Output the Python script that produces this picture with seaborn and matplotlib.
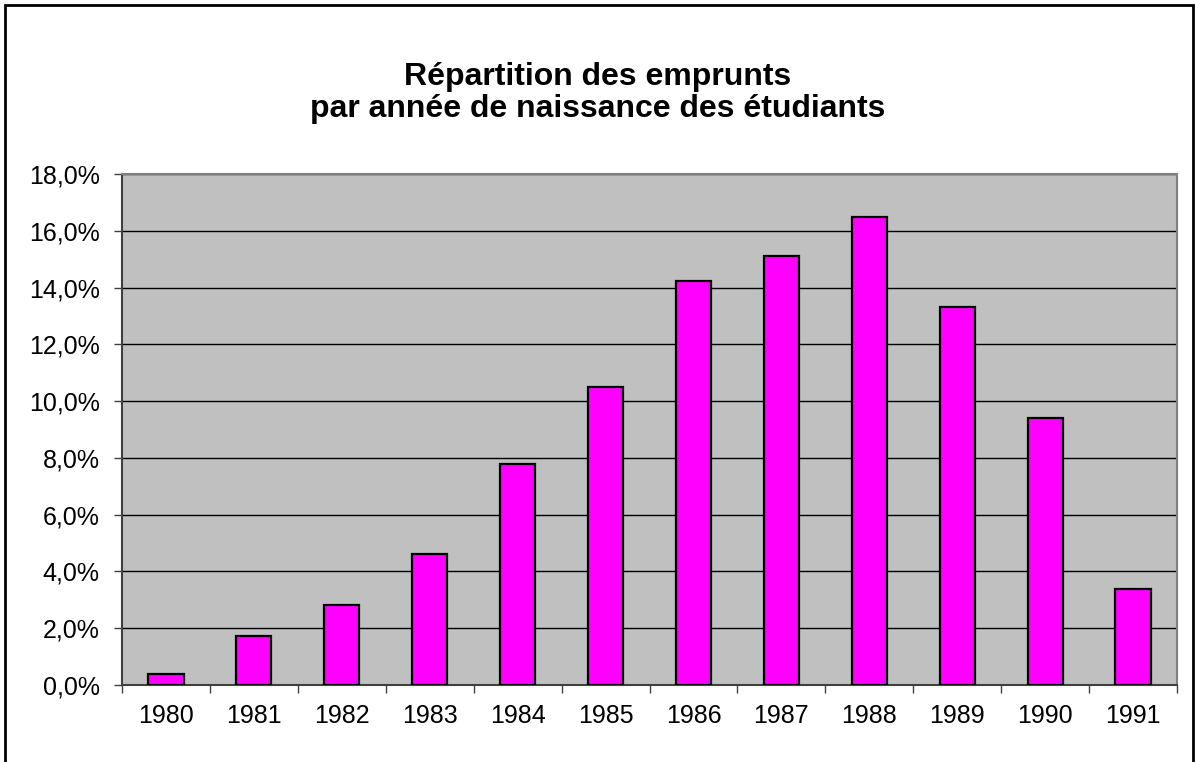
import matplotlib
matplotlib.use("Agg")
import matplotlib.pyplot as plt
import matplotlib.patches as mpatches
from matplotlib.ticker import FuncFormatter, FixedLocator
import seaborn as sns
import pandas as pd

years = ["1980", "1981", "1982", "1983", "1984", "1985",
         "1986", "1987", "1988", "1989", "1990", "1991"]
shares = [0.40, 1.72, 2.82, 4.63, 7.80, 10.50,
          14.23, 15.10, 16.50, 13.31, 9.39, 3.37]
yticks = [0, 2, 4, 6, 8, 10, 12, 14, 16, 18]
title_lines = ["Répartition des emprunts", "par année de naissance des étudiants"]

sns.set_theme(style="white")
plt.rcParams['font.family'] = ['Liberation Sans', 'DejaVu Sans']

df = pd.DataFrame({"annee": years, "part": shares})

fig = plt.figure(figsize=(11.95, 7.62), dpi=100)
ax = fig.add_axes([122/1195, 1 - 685/762, (1177-122)/1195, (685-174)/762])
ax.set_facecolor("#C0C0C0")

sns.barplot(data=df, x="annee", y="part", color="#FF00FF", width=0.4,
            edgecolor="black", linewidth=1.6, saturation=1, ax=ax, zorder=3)
for p in ax.patches:
    p.set_facecolor("#FF00FF")

ax.set_xlim(-0.5, len(years) - 0.5)
ax.set_ylim(0, 18)
ax.yaxis.set_major_locator(FixedLocator(yticks))
ax.yaxis.set_major_formatter(FuncFormatter(lambda v, pos: f"{v:.1f}".replace('.', ',') + '%'))
ax.grid(axis='y', color='black', linewidth=1.0, zorder=1)
ax.set_axisbelow(True)

ax.set_xticks(range(len(years)))
ax.set_xticklabels(years)
ax.set_xticks([i - 0.5 for i in range(len(years) + 1)], minor=True)
ax.tick_params(axis='x', which='major', length=0, pad=14, labelsize=18, colors='black')
ax.tick_params(axis='x', which='minor', length=6, width=1, color='#404040', direction='out', bottom=True)
ax.tick_params(axis='y', which='major', length=6, width=1, color='#404040', direction='out',
               left=True, pad=10, labelsize=18, labelcolor='black')
ax.set_xlabel("")
ax.set_ylabel("")

for s in ['top', 'right']:
    ax.spines[s].set_color('#808080')
    ax.spines[s].set_linewidth(1.5)
for s in ['left', 'bottom']:
    ax.spines[s].set_color('#404040')
    ax.spines[s].set_linewidth(1.5)

for yy, line in zip([77, 109], title_lines):
    fig.text(598/1195, 1 - yy/762, line, ha='center', va='center',
             fontsize=23, fontweight='bold', color='black')

border = mpatches.Rectangle((5/1195, -0.02), (1193-5)/1195, 1 - 5/762 + 0.02,
                            transform=fig.transFigure, fill=False,
                            edgecolor='black', linewidth=2)
fig.patches.append(border)

fig.savefig("out.png", dpi=100, facecolor='white')
